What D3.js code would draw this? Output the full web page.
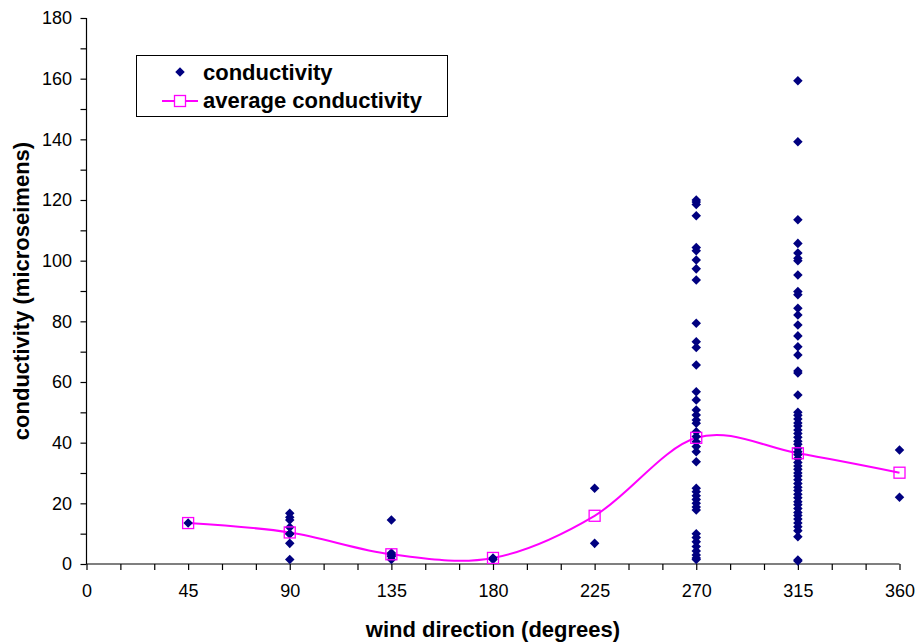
<!DOCTYPE html>
<html>
<head>
<meta charset="utf-8">
<script src="https://cdn.jsdelivr.net/npm/d3@7"></script>
<style>
  body { margin: 0; background: #fff; }
  svg { display: block; font-family: "Liberation Sans", Arial, sans-serif; }
</style>
</head>
<body>
<svg id="chart" width="920" height="644"></svg>
<script>
// conductivity readings per wind direction
const dir45 = [13.5];
const dir90 = [16.7, 15.4, 14.5, 12.1, 10.0, 9.9, 6.8, 1.5];
const dir135 = [14.5, 3.6, 3.0, 2.5, 1.5];
const dir180 = [2.0, 1.5];
const dir225 = [25.0, 6.8];
const dir270 = [120, 119.3, 118.5, 114.8, 104.3, 103.3, 100.2, 97.3, 93.6, 79.4,
  73.3, 71.4, 65.6, 56.8, 54.1, 50.8, 49.1, 47.5, 46.4, 43.6, 42, 40.3, 38.7, 37,
  33.7, 25, 23.8, 22.5, 21.3, 20, 18.8, 17.8, 10, 8.7, 7.3, 5.8, 4.3, 3, 2, 1.5];
const dir315 = [159.3, 139.2, 113.5, 105.7, 102.5, 100.8, 100, 95.3, 89.8, 88.8,
  84.3, 82.1, 78.8, 75.2, 71.6, 68.9, 63.6, 63, 55.7, 50, 49, 47.8, 46.5, 45.5,
  44.2, 43, 41.8, 40.5, 39.5, 38.2, 37, 36, 34.8, 33.5, 32.3, 31.2, 30, 29, 27.8,
  26.5, 25.3, 24.2, 23, 21.8, 20.5, 19.5, 18.3, 17, 16, 14.8, 13.5, 12.3, 11, 9,
  1.3, 1.0];
const dir360 = [37.6, 22.0];

const directions = [45, 90, 135, 180, 225, 270, 315, 360];
const readings = [dir45, dir90, dir135, dir180, dir225, dir270, dir315, dir360];
const averages = [13.5, 10.4, 3.2, 2.0, 15.9, 41.6, 36.5, 30.1];

const xTicks = [0, 45, 90, 135, 180, 225, 270, 315, 360];
const yTicks = [0, 20, 40, 60, 80, 100, 120, 140, 160, 180];

const navy = '#000080';
const magenta = '#ff00ff';

const svg = d3.select('#chart');

const x = d3.scaleLinear().domain([0, 360]).range([86.5, 899.5]);
const y = d3.scaleLinear().domain([0, 180]).range([564, 18]);

const points = [];
directions.forEach((d, i) => {
  readings[i].forEach(v => points.push({ dir: d, value: v }));
});

// axes
const xAxis = d3.axisBottom(x)
  .tickValues(d3.range(0, 361, 15))
  .tickSize(6)
  .tickFormat(d => xTicks.includes(d) ? d : '');

const yAxis = d3.axisLeft(y)
  .tickValues(d3.range(0, 181, 10))
  .tickSize(6)
  .tickFormat(d => yTicks.includes(d) ? d : '');

const gx = svg.append('g')
  .attr('transform', `translate(0,${y(0)})`)
  .call(xAxis);
gx.select('.domain').attr('d', `M${x(0)},0H${x(360)}`);

const gy = svg.append('g')
  .attr('transform', `translate(${x(0)},0)`)
  .call(yAxis);
gy.select('.domain').attr('d', `M0,${y(0)}V${y(180)}`);

svg.selectAll('.domain, .tick line').attr('stroke', '#000').attr('stroke-width', 1.2);
svg.selectAll('.tick text')
  .attr('font-size', 18)
  .attr('font-family', '"Liberation Sans", Arial, sans-serif')
  .attr('fill', '#000');
gx.selectAll('.tick text').attr('dy', '1.35em');
gy.selectAll('.tick text').attr('dx', '-0.3em');

// axis titles
svg.append('text')
  .attr('x', x(180))
  .attr('y', 637)
  .attr('text-anchor', 'middle')
  .attr('font-size', 22)
  .attr('font-weight', 'bold')
  .text('wind direction (degrees)');

svg.append('text')
  .attr('transform', `translate(29,${y(90)}) rotate(-90)`)
  .attr('text-anchor', 'middle')
  .attr('font-size', 22)
  .attr('font-weight', 'bold')
  .text('conductivity (microseimens)');

// average line (smoothed)
const line = d3.line()
  .x((d, i) => x(directions[i]))
  .y(d => y(d))
  .curve(d3.curveCatmullRom.alpha(0));

svg.append('path')
  .datum(averages)
  .attr('d', line)
  .attr('fill', 'none')
  .attr('stroke', magenta)
  .attr('stroke-width', 2);

// scatter diamonds
const diamond = d3.symbol().type(d3.symbolDiamond2).size(58);

svg.append('g')
  .selectAll('path')
  .data(points)
  .join('path')
  .attr('d', diamond)
  .attr('transform', d => `translate(${x(d.dir)},${y(d.value)})`)
  .attr('fill', navy);

// average markers
svg.append('g')
  .selectAll('rect')
  .data(averages)
  .join('rect')
  .attr('x', (d, i) => x(directions[i]) - 5.5)
  .attr('y', d => y(d) - 5.5)
  .attr('width', 11)
  .attr('height', 11)
  .attr('fill', 'none')
  .attr('stroke', magenta)
  .attr('stroke-width', 1.3);

// legend
const legend = svg.append('g');
legend.append('rect')
  .attr('x', 136.5).attr('y', 55.5)
  .attr('width', 311).attr('height', 61)
  .attr('fill', '#fff').attr('stroke', '#000').attr('stroke-width', 1);

legend.append('path')
  .attr('d', diamond)
  .attr('transform', 'translate(180,72)')
  .attr('fill', navy);
legend.append('text')
  .attr('x', 203).attr('y', 80)
  .attr('font-size', 22).attr('font-weight', 'bold')
  .text('conductivity');

legend.append('line')
  .attr('x1', 162).attr('x2', 198).attr('y1', 101).attr('y2', 101)
  .attr('stroke', magenta).attr('stroke-width', 2);
legend.append('rect')
  .attr('x', 174.5).attr('y', 95.5).attr('width', 11).attr('height', 11)
  .attr('fill', '#fff').attr('stroke', magenta).attr('stroke-width', 1.3);
legend.append('text')
  .attr('x', 203).attr('y', 108)
  .attr('font-size', 22).attr('font-weight', 'bold')
  .text('average conductivity');
</script>
</body>
</html>
